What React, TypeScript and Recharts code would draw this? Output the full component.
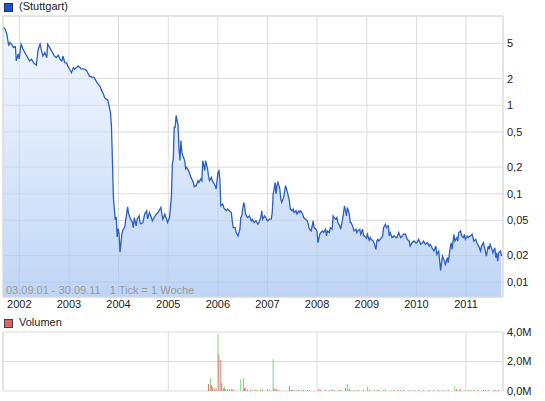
import React from "react";
import { ComposedChart, Area, Bar, XAxis, YAxis, CartesianGrid, ReferenceLine } from "recharts";

// weekly closes, [week since 03.09.01, price]
const price2001to2003: [number, number][] = [
  [0, 7.6], [2, 7.3], [4, 6.4], [6, 4.7], [7, 5.1], [9, 4.9], [11, 4.5], [13, 4.6], [14, 3.17], [16, 3.8],
  [17, 3.34], [19, 4.9], [21, 4.33], [23, 3.93], [25, 3.6], [26, 3.45], [28, 3.17], [30, 3.31], [32, 3.03],
  [35, 2.83], [37, 4.3], [39, 4.9], [40, 4.3], [42, 3.6], [44, 3.93], [46, 3.45], [47, 4.9], [49, 4.48],
  [51, 4.11], [53, 3.77], [54, 3.6], [56, 3.45], [58, 3.67], [60, 3.31], [62, 3.17], [63, 3.6], [65, 3.03],
  [67, 2.99], [68, 2.78], [70, 2.55], [72, 2.33], [74, 2.66], [75, 2.55], [77, 2.66], [79, 2.78], [81, 2.66],
  [82, 2.58], [84, 2.58], [86, 2.55], [88, 2.44], [89, 2.33], [91, 2.13], [93, 2.08], [95, 2.08], [96, 2.03],
  [98, 1.87], [100, 1.72], [102, 1.64], [103, 1.52], [105, 1.38], [107, 1.21], [109, 1.16], [110, 1.16],
  [112, 0.93], [113, 0.82], [114, 0.577], [115, 0.243], [116, 0.0925], [118, 0.0506], [119, 0.0548],
  [120, 0.0324], [121, 0.0404], [122, 0.0354], [123, 0.0219],
];

const price2004to2006: [number, number][] = [
  [125, 0.0354], [126, 0.0387], [128, 0.0422], [129, 0.0506], [131, 0.0711], [132, 0.0592], [134, 0.052],
  [136, 0.0472], [137, 0.0414], [138, 0.0538], [140, 0.0433], [141, 0.0515], [143, 0.0562], [144, 0.0472],
  [145, 0.0456], [147, 0.0472], [149, 0.0592], [151, 0.0641], [152, 0.052], [154, 0.0613], [156, 0.0538],
  [157, 0.0493], [159, 0.0538], [161, 0.0587], [163, 0.0613], [164, 0.0641], [166, 0.0699], [167, 0.0587],
  [168, 0.0515], [170, 0.0587], [172, 0.0515], [173, 0.0472], [175, 0.0538], [177, 0.0908], [178, 0.217],
  [179, 0.248], [180, 0.567], [181, 0.567], [182, 0.77], [184, 0.592], [185, 0.322], [186, 0.237], [187, 0.4],
  [188, 0.295], [189, 0.27], [191, 0.237], [192, 0.191], [193, 0.199], [195, 0.1825], [197, 0.16], [198, 0.15],
  [200, 0.1345], [201, 0.12], [203, 0.1232], [205, 0.1405], [206, 0.1345], [208, 0.147], [209, 0.1405],
  [210, 0.237], [212, 0.1825], [213, 0.237], [215, 0.191], [216, 0.16], [217, 0.1405], [219, 0.153],
  [220, 0.1405], [222, 0.129], [223, 0.1232], [224, 0.113], [226, 0.1747], [227, 0.1825], [228, 0.1405],
  [229, 0.073], [231, 0.0763], [232, 0.0699], [233, 0.067], [235, 0.0641], [236, 0.067], [238, 0.0641],
  [240, 0.0613], [241, 0.0493], [242, 0.0414], [244, 0.0414], [245, 0.0364], [247, 0.0333], [248, 0.0364],
  [249, 0.0397], [250, 0.0538], [251, 0.0562], [253, 0.0796], [254, 0.073], [255, 0.0587], [257, 0.0538],
  [259, 0.0562],
];

const price2006to2009: [number, number][] = [
  [261, 0.0493], [262, 0.0515], [264, 0.0472], [266, 0.0493], [268, 0.0452], [269, 0.0472], [271, 0.0538],
  [272, 0.0641], [273, 0.0515], [275, 0.0562], [276, 0.0538], [278, 0.0493], [280, 0.0515], [282, 0.0515],
  [283, 0.0613], [284, 0.0992], [285, 0.113], [286, 0.1345], [287, 0.0992], [288, 0.1232], [289, 0.1345],
  [291, 0.113], [292, 0.087], [293, 0.0796], [295, 0.0908], [297, 0.1232], [298, 0.113], [299, 0.1035],
  [301, 0.0832], [302, 0.067], [304, 0.0641], [305, 0.067], [306, 0.0613], [308, 0.0641], [309, 0.0587],
  [311, 0.0641], [312, 0.0613], [313, 0.0641], [315, 0.0587], [316, 0.0538], [318, 0.0515], [320, 0.0493],
  [322, 0.0397], [324, 0.038], [325, 0.0433], [326, 0.0493], [327, 0.0414], [329, 0.0397], [330, 0.038],
  [331, 0.0279], [333, 0.0348], [334, 0.0364], [336, 0.038], [337, 0.0364], [339, 0.0397], [340, 0.0333],
  [341, 0.038], [343, 0.0364], [344, 0.0414], [346, 0.0397], [347, 0.0562], [348, 0.0538], [350, 0.0515],
  [351, 0.0538], [352, 0.0472], [354, 0.0433], [355, 0.0397], [357, 0.0515], [358, 0.0613], [359, 0.073],
  [361, 0.0562], [362, 0.0699], [364, 0.0587], [365, 0.0472], [366, 0.0472], [368, 0.0414], [369, 0.038],
  [371, 0.0397], [372, 0.0364], [373, 0.038], [375, 0.0397], [376, 0.0348], [378, 0.0397], [379, 0.0333],
  [380, 0.0333], [382, 0.0313], [383, 0.0348], [385, 0.0297], [386, 0.0319], [387, 0.0305], [389, 0.0292],
  [390, 0.0279], [392, 0.0235], [393, 0.0292], [394, 0.0305],
];

const price2009to2011: [number, number][] = [
  [395, 0.0292], [398, 0.0319], [399, 0.0333], [400, 0.0414], [402, 0.0452], [403, 0.0414], [405, 0.0433],
  [406, 0.0333], [407, 0.0364], [409, 0.0319], [411, 0.0333], [413, 0.0319], [414, 0.0319], [416, 0.0364],
  [418, 0.0319], [420, 0.0333], [421, 0.0348], [423, 0.0348], [425, 0.0305], [427, 0.0292], [428, 0.0256],
  [430, 0.0279], [432, 0.0292], [434, 0.0279], [435, 0.0279], [437, 0.0305], [439, 0.0268], [441, 0.0279],
  [442, 0.0292], [444, 0.0268], [446, 0.0279], [448, 0.0256], [449, 0.0268], [451, 0.0245], [453, 0.0225],
  [455, 0.0256], [456, 0.0206], [458, 0.0225], [460, 0.01355], [461, 0.0166], [462, 0.0197], [464, 0.0173],
  [465, 0.0159], [467, 0.0189], [468, 0.0166], [470, 0.0245], [471, 0.0279], [472, 0.0235], [474, 0.0348],
  [475, 0.0292], [477, 0.0319], [478, 0.0292], [479, 0.0364], [481, 0.038], [482, 0.0333], [484, 0.0319],
  [485, 0.0348], [486, 0.0305], [488, 0.0333], [489, 0.0319], [491, 0.0333], [492, 0.0333], [493, 0.0348],
  [495, 0.0292], [497, 0.0305], [498, 0.0279], [500, 0.0256], [502, 0.0225], [503, 0.0256], [505, 0.0279],
  [507, 0.0225], [508, 0.0197], [510, 0.0256], [511, 0.0235], [512, 0.0268], [514, 0.0235], [515, 0.0215],
  [517, 0.0245], [518, 0.0189], [519, 0.0215], [520, 0.0173], [521, 0.0215], [523, 0.0225], [524, 0.0197],
];

// volume in millions, [week, volume]
const volumeDown: [number, number][] = [
  [216, 0.47], [219, 0.41], [220, 0.29], [222, 0.18], [224, 0.18], [227, 2.5], [229, 2.1], [230, 0.52],
  [232, 0.18], [234, 0.1], [236, 0.12], [238, 0.12], [240, 0.12], [241, 0.12], [254, 0.22], [257, 0.1],
  [260, 0.08], [265, 0.08], [271, 0.08], [278, 0.1], [285, 0.18], [287, 0.13], [288, 0.1], [301, 0.34],
  [303, 0.1], [306, 0.07], [311, 0.07], [316, 0.07], [320, 0.07], [332, 0.13], [334, 0.08], [339, 0.07],
  [343, 0.07], [348, 0.07], [353, 0.07], [360, 0.2], [364, 0.15], [369, 0.07], [374, 0.07], [379, 0.07],
  [385, 0.1], [390, 0.07], [395, 0.07], [402, 0.1], [411, 0.07], [416, 0.07], [421, 0.07], [427, 0.07],
  [437, 0.07], [448, 0.07], [458, 0.07], [468, 0.07], [477, 0.15], [481, 0.07], [489, 0.07], [495, 0.07],
  [500, 0.07], [505, 0.07], [510, 0.07], [516, 0.07], [521, 0.07],
];

const volumeUp: [number, number][] = [
  [218, 0.86], [226, 3.86], [233, 0.29], [243, 0.1], [250, 0.79], [253, 0.86], [255, 0.18], [262, 0.08],
  [267, 0.08], [273, 0.13], [280, 0.08], [284, 2.15], [290, 0.08], [304, 0.07], [309, 0.07], [314, 0.1],
  [322, 0.07], [346, 0.13], [355, 0.07], [362, 0.47], [365, 0.1], [372, 0.07], [383, 0.27], [393, 0.07],
  [400, 0.07], [408, 0.07], [418, 0.07], [432, 0.07], [442, 0.07], [453, 0.07], [463, 0.07], [475, 0.25],
  [480, 0.13], [486, 0.07], [492, 0.07], [507, 0.07], [518, 0.07],
];

const years = [2002, 2003, 2004, 2005, 2006, 2007, 2008, 2009, 2010, 2011];
const priceTicks = [0.01, 0.02, 0.05, 0.1, 0.2, 0.5, 1, 2, 5];
const volumeTicks = [0, 2, 4];

const START = Date.UTC(2001, 8, 3);
const END = Date.UTC(2011, 8, 30);
const WEEK = 7 * 24 * 3600 * 1000;
const PRICE_MIN = 0.0068;
const PRICE_MAX = 10.2;

const yearTicks = years.map((y) => Date.UTC(y, 0, 1));

const priceData = [...price2001to2003, ...price2004to2006, ...price2006to2009, ...price2009to2011].map(
  ([w, p]) => ({ t: START + w * WEEK, price: p })
);

const volumeData = [
  ...volumeUp.map(([w, v]) => ({ t: START + w * WEEK, up: v })),
  ...volumeDown.map(([w, v]) => ({ t: START + w * WEEK, down: v })),
].sort((a, b) => a.t - b.t);

const FONT = "'Liberation Sans', Arial, sans-serif";
const GRID = "#dcdcdc";
const tickStyle = { fontSize: 11, fill: "#222", fontFamily: FONT };

const fmtPrice = (v: number) => String(v).replace(".", ",");
const fmtVol = (v: number) => `${v.toFixed(1).replace(".", ",")}M`;
const fmtYear = (t: number) => String(new Date(t).getUTCFullYear());

export default function App() {
  return (
    <div style={{ position: "absolute", left: 0, top: 0, width: 545, height: 401, background: "#fff", fontFamily: FONT }}>
      <div style={{ position: "absolute", left: 4, top: 3, width: 7, height: 7, background: "#1f55c0", border: "1px solid #1a2f66" }} />
      <div style={{ position: "absolute", left: 19, top: 0, fontSize: 11, color: "#222", lineHeight: "13px" }}>(Stuttgart)</div>

      <div style={{ position: "absolute", left: 0, top: 0 }}>
        <ComposedChart width={545} height={312} data={priceData} margin={{ top: 16, right: 0, bottom: 0, left: 3 }}>
          <defs>
            <linearGradient id="priceFill" x1="0" y1="0" x2="0" y2="1">
              <stop offset="0%" stopColor="#dde9fc" stopOpacity={0.45} />
              <stop offset="100%" stopColor="#a6c4f2" stopOpacity={0.72} />
            </linearGradient>
          </defs>
          <CartesianGrid stroke={GRID} />
          <XAxis
            dataKey="t"
            type="number"
            domain={[START, END]}
            ticks={yearTicks}
            tickFormatter={fmtYear}
            height={15}
            tickSize={0}
            tickMargin={3}
            axisLine={false}
            tick={tickStyle}
            allowDataOverflow
          />
          <YAxis
            orientation="right"
            type="number"
            scale="log"
            domain={[PRICE_MIN, PRICE_MAX]}
            ticks={priceTicks}
            tickFormatter={fmtPrice}
            width={42}
            tickSize={0}
            tickMargin={4}
            axisLine={false}
            tick={{ ...tickStyle, textAnchor: "start" }}
            allowDataOverflow
          />
          <ReferenceLine x={START} stroke={GRID} />
          <ReferenceLine x={END} stroke={GRID} />
          <ReferenceLine y={PRICE_MAX} stroke={GRID} />
          <ReferenceLine y={PRICE_MIN} stroke={GRID} />
          <Area
            dataKey="price"
            type="linear"
            stroke="#2c5fc2"
            strokeWidth={1.3}
            fill="url(#priceFill)"
            fillOpacity={1}
            isAnimationActive={false}
            dot={false}
            activeDot={false}
          />
        </ComposedChart>
      </div>

      <div style={{ position: "absolute", left: 6, top: 284, fontSize: 11, color: "#9a9a9a", whiteSpace: "pre", lineHeight: "13px" }}>
        {"03.09.01 - 30.09.11   1 Tick = 1 Woche"}
      </div>

      <div style={{ position: "absolute", left: 4, top: 319, width: 7, height: 7, background: "#dd6464", border: "1px solid #444" }} />
      <div style={{ position: "absolute", left: 19, top: 316, fontSize: 11, color: "#222", lineHeight: "13px" }}>Volumen</div>

      <div style={{ position: "absolute", left: 0, top: 326 }}>
        <ComposedChart width={545} height={75} data={volumeData} margin={{ top: 6, right: 0, bottom: 10, left: 3 }}>
          <CartesianGrid stroke={GRID} />
          <XAxis dataKey="t" type="number" domain={[START, END]} ticks={yearTicks} hide allowDataOverflow />
          <YAxis
            orientation="right"
            type="number"
            domain={[0, 4]}
            ticks={volumeTicks}
            tickFormatter={fmtVol}
            width={42}
            tickSize={0}
            tickMargin={4}
            axisLine={false}
            tick={{ ...tickStyle, textAnchor: "start" }}
            allowDataOverflow
          />
          <ReferenceLine x={START} stroke={GRID} />
          <ReferenceLine x={END} stroke={GRID} />
          <Bar dataKey="up" stackId="v" fill="#5ad65a" barSize={1} isAnimationActive={false} />
          <Bar dataKey="down" stackId="v" fill="#e06464" barSize={1} isAnimationActive={false} />
        </ComposedChart>
      </div>
    </div>
  );
}
